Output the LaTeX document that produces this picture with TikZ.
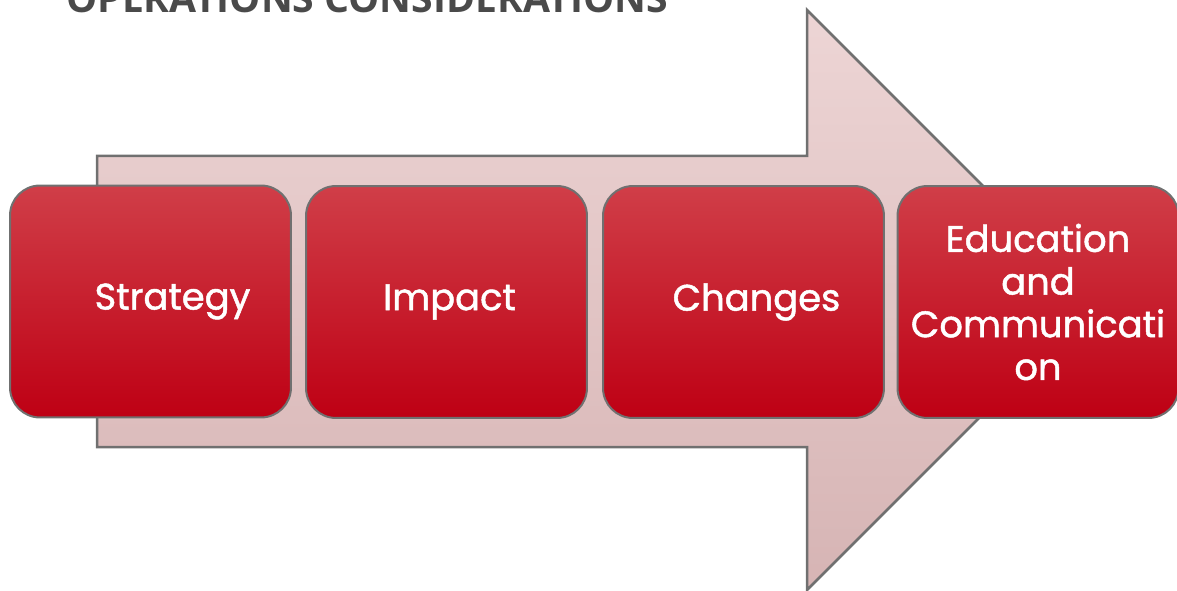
\documentclass[tikz,border=0pt]{standalone}
\usepackage{fontspec}
\setmainfont{Poppins}
\newfontfamily\boxfont{Poppins}[FakeBold=1.3]
\newfontfamily\titlefont{Open Sans}

\definecolor{arrowtop}{RGB}{237,213,213}
\definecolor{arrowbot}{RGB}{214,180,180}
\definecolor{edgegray}{RGB}{112,112,112}
\definecolor{boxtop}{RGB}{208,62,72}
\definecolor{boxmid}{RGB}{200,16,36}
\definecolor{boxbot}{RGB}{190,0,20}
\definecolor{titlegray}{RGB}{74,74,74}

\begin{document}
\begin{tikzpicture}[x=0.02cm,y=-0.02cm]
\useasboundingbox (0,0) rectangle (1177,591);
\clip (0,0) rectangle (1177,591);

% title, cut at the top edge
\node[anchor=base,text=titlegray,font=\titlefont\bfseries\fontsize{22.3}{26}\selectfont] (title) at (367,13) {OPERATIONS CONSIDERATIONS};

% big arrow behind the steps
\draw[draw=edgegray,line width=0.05cm,top color=arrowtop,bottom color=arrowbot]
    (97,156) -- (807,156) -- (807,10) -- (1097,300) -- (807,590) -- (807,447) -- (97,447) -- cycle;

\begin{scope}[every node/.style={draw=edgegray,line width=0.04cm,rounded corners=0.6cm,
              top color=boxtop,middle color=boxmid,bottom color=boxbot,
              minimum width=5.62cm,minimum height=4.64cm,text=white,align=center,
              font=\boxfont\fontsize{21}{24.3}\selectfont}]
    \node (strategy) at (150.5,301.5) {\hspace*{0.88cm}\raisebox{-0.06cm}{Strategy}};
    \node (impact)   at (446.5,302)   {\hspace*{0.12cm}\raisebox{-0.06cm}{Impact}};
    \node (changes)  at (743.5,302)   {\hspace*{0.52cm}\raisebox{-0.06cm}{Changes}};
    \node (educ)     at (1038,302)    {Education\\and\\Communicati\\on};
\end{scope}
\end{tikzpicture}
\end{document}
